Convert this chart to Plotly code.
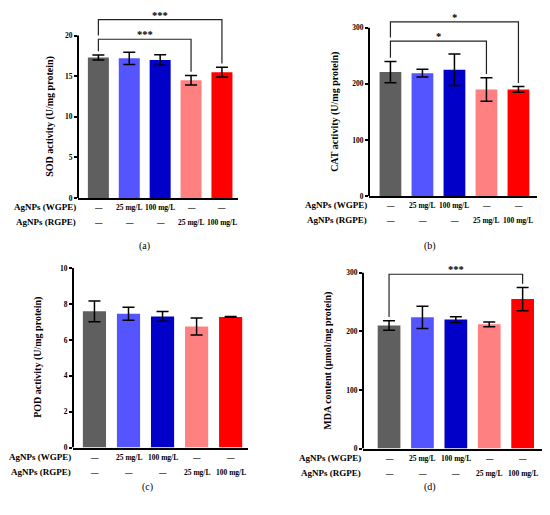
import plotly.graph_objects as go

# Treatment groups (x positions 0..4) and the two label rows under the axis
groups = ['Control', 'WGPE 25', 'WGPE 100', 'RGPE 25', 'RGPE 100']
wgpe_labels = ['—', '25 mg/L', '100 mg/L', '—', '—']
rgpe_labels = ['—', '—', '—', '25 mg/L', '100 mg/L']
bar_colors = ['#5f5f5f', '#5555ff', '#0000c8', '#ff8080', '#ff0000']

# Means and error (SD)
sod_mean = [17.3, 17.2, 17.0, 14.5, 15.5]
sod_err = [0.3, 0.75, 0.65, 0.6, 0.6]
cat_mean = [221, 219, 225, 190, 190]
cat_err = [19, 7, 28, 21, 5]
pod_mean = [7.59, 7.46, 7.31, 6.75, 7.28]
pod_err = [0.58, 0.36, 0.27, 0.47, 0.02]
mda_mean = [210, 224, 220, 212, 255]
mda_err = [8, 19, 5, 4, 20]

# Significance brackets: (from group, to group, stars)
sod_sig = [(0, 3, '***'), (0, 4, '***')]
cat_sig = [(0, 3, '*'), (0, 4, '*')]
pod_sig = []
mda_sig = [(0, 4, '***')]

# the page body has an 8px margin, so the figure is made smaller and shifted
OFF = 8
W, H = 550 - 2 * OFF, 515 - 2 * OFF
FONT = 'Liberation Serif'


def px_x(v):
    return min(max((v - OFF) / W, 0), 1)


def px_y(v):
    return min(max(1 - (v - OFF) / H, 0), 1)


# panel placement in page pixels: x span of the axes, pixel of y=0 and of y=ymax
panels = [
    dict(mean=sod_mean, err=sod_err, sig=sod_sig, ytitle='SOD activity (U/mg protein)',
         ymax=20, dtick=5, top=22.9, xpx=(78, 238), y0px=198, ymaxpx=33,
         xrange=[-0.66, 4.52], tshift=28, letter='(a)', letx=137, lety=247),
    dict(mean=cat_mean, err=cat_err, sig=cat_sig, ytitle='CAT activity (U/mg protein)',
         ymax=300, dtick=100, top=328, xpx=(369, 537), y0px=196, ymaxpx=25,
         xrange=[-0.67, 4.58], tshift=34, letter='(b)', letx=438, lety=247),
    dict(mean=pod_mean, err=pod_err, sig=pod_sig, ytitle='POD activity (U/mg protein)',
         ymax=10, dtick=2, top=10.1, xpx=(73, 248), y0px=451.7, ymaxpx=269.3,
         xrange=[-0.63, 4.51], tshift=35, letter='(c)', letx=140, lety=500),
    dict(mean=mda_mean, err=mda_err, sig=mda_sig, ytitle='MDA content (μmol/mg protein)',
         ymax=300, dtick=100, top=320, xpx=(363, 542), y0px=452.7, ymaxpx=274,
         xrange=[-0.78, 4.58], tshift=35, letter='(d)', letx=438, lety=500),
]

fig = go.Figure()
shapes = []
annotations = []
layout = {}
xs = list(range(len(groups)))

for i, p in enumerate(panels):
    s = '' if i == 0 else str(i + 1)
    xref, yref = 'x' + s, 'y' + s

    fig.add_trace(go.Bar(
        x=xs, y=p['mean'], width=0.68, marker=dict(color=bar_colors, line=dict(width=0)),
        error_y=dict(type='data', array=p['err'], color='black', thickness=1.5, width=6),
        xaxis=xref, yaxis=yref, showlegend=False))

    # domains from pixel positions
    scale = (p['y0px'] - p['ymaxpx']) / p['ymax']
    top_px = p['y0px'] - p['top'] * scale
    layout['xaxis' + s] = dict(domain=[px_x(p['xpx'][0]), px_x(p['xpx'][1])], range=p['xrange'],
                               anchor=yref, showline=True, linewidth=2, linecolor='black',
                               showticklabels=False, ticks='', showgrid=False, zeroline=False)
    layout['yaxis' + s] = dict(domain=[px_y(p['y0px']), px_y(top_px)], range=[0, p['top']],
                               anchor=xref, showline=False, showgrid=False, zeroline=False,
                               tickvals=list(range(0, p['ymax'] + 1, p['dtick'])),
                               ticks='outside', ticklen=3, tickwidth=1.5, tickcolor='black',
                               tickfont=dict(family=FONT, size=7.5, color='black', weight='bold'))

    # y axis line only up to the last tick
    shapes.append(dict(type='line', xref=xref + ' domain', yref=yref, x0=0, x1=0,
                       y0=0, y1=p['ymax'], line=dict(color='black', width=2)))

    # y axis title
    annotations.append(dict(text=p['ytitle'], textangle=-90, xref=xref + ' domain',
                            yref=yref, x=0, y=p['ymax'] / 2, xshift=-p['tshift'],
                            xanchor='center', yanchor='middle', showarrow=False,
                            font=dict(family=FONT, size=10, color='black', weight='bold')))

    # label rows under the bars
    for row, (name, labels) in enumerate([('AgNPs (WGPE)', wgpe_labels), ('AgNPs (RGPE)', rgpe_labels)]):
        yshift = -16 - 15 * row
        annotations.append(dict(text=name, xref=xref + ' domain', yref=yref + ' domain',
                                x=0, y=0, xanchor='right', yshift=yshift, xshift=0,
                                showarrow=False, font=dict(family=FONT, size=9, color='black', weight='bold')))
        for k, lab in enumerate(labels):
            annotations.append(dict(text=lab, xref=xref, yref=yref + ' domain', x=xs[k], y=0,
                                    yshift=yshift, showarrow=False,
                                    font=dict(family=FONT, size=7.5, color='black', weight='bold')))

    # panel letter
    annotations.append(dict(text=p['letter'], xref='paper', yref='paper', x=px_x(p['letx']),
                            y=px_y(p['lety']), showarrow=False,
                            font=dict(family=FONT, size=10, color='black')))

    # significance brackets
    tops = [m + e for m, e in zip(p['mean'], p['err'])]
    pad = 0.02 * p['top']
    level = None
    for n, (a, b, stars) in enumerate(p['sig']):
        prev = level
        if level is None:
            level = max(tops) + 0.07 * p['top']
        else:
            level = level + 0.105 * p['top']
        left_bottom = (prev + pad) if prev is not None else tops[a] + pad
        right_bottom = tops[b] + pad
        path = f'M {xs[a]},{left_bottom} L {xs[a]},{level} L {xs[b]},{level} L {xs[b]},{right_bottom}'
        shapes.append(dict(type='path', path=path, xref=xref, yref=yref,
                           line=dict(color='#222222', width=1.2)))
        annotations.append(dict(text=stars, xref=xref, yref=yref, x=(xs[a] + xs[b]) / 2,
                                y=level, yanchor='bottom', yshift=-3, showarrow=False,
                                font=dict(family=FONT, size=10.5, color='black', weight='bold')))

fig.update_layout(
    width=W, height=H,
    margin=dict(l=0, r=0, t=0, b=0),
    paper_bgcolor='white', plot_bgcolor='white',
    font=dict(family=FONT, color='black'),
    shapes=shapes, annotations=annotations,
    **layout,
)

fig.write_html("out.html")
